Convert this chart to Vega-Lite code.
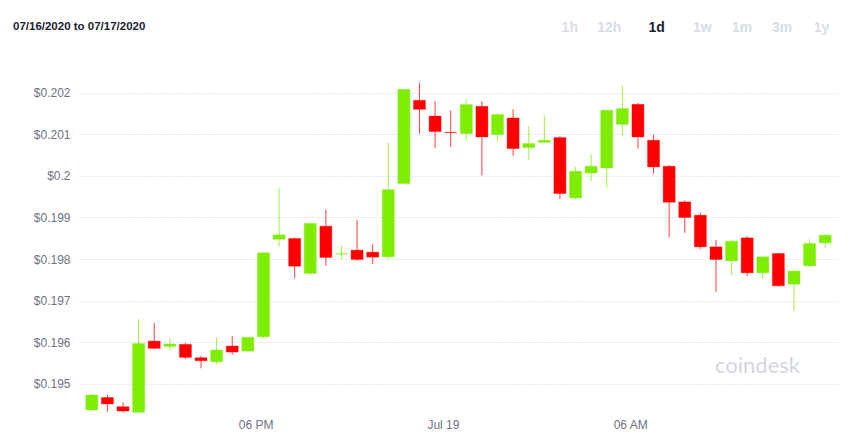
{
  "$schema": "https://vega.github.io/schema/vega-lite/v6.json",
  "width": 759,
  "height": 337,
  "autosize": {"type": "none"},
  "padding": {"left": 79, "top": 76, "right": 28, "bottom": 33},
  "background": "#ffffff",
  "title": {
    "text": "07/16/2020 to 07/17/2020",
    "anchor": "start",
    "frame": "group",
    "dx": -66,
    "dy": 16,
    "font": "Liberation Sans, Arial, sans-serif",
    "fontSize": 11.5,
    "fontWeight": "bold",
    "color": "#1b1d33"
  },
  "data": {
    "values": [
      {"t": "2020-07-18T12:45:00", "o": 0.194372, "h": 0.194768, "l": 0.194348, "c": 0.194732},
      {"t": "2020-07-18T13:15:00", "o": 0.194672, "h": 0.194732, "l": 0.194331, "c": 0.194516},
      {"t": "2020-07-18T13:45:00", "o": 0.194451, "h": 0.194557, "l": 0.194307, "c": 0.194348},
      {"t": "2020-07-18T14:15:00", "o": 0.194317, "h": 0.196557, "l": 0.19431, "c": 0.195973},
      {"t": "2020-07-18T14:45:00", "o": 0.196029, "h": 0.196468, "l": 0.195836, "c": 0.195853},
      {"t": "2020-07-18T15:15:00", "o": 0.195901, "h": 0.196108, "l": 0.195796, "c": 0.195957},
      {"t": "2020-07-18T15:45:00", "o": 0.195949, "h": 0.195988, "l": 0.195597, "c": 0.195637},
      {"t": "2020-07-18T16:15:00", "o": 0.195628, "h": 0.195676, "l": 0.195373, "c": 0.195556},
      {"t": "2020-07-18T16:45:00", "o": 0.195532, "h": 0.196118, "l": 0.195469, "c": 0.195813},
      {"t": "2020-07-18T17:15:00", "o": 0.195909, "h": 0.196149, "l": 0.1957, "c": 0.195765},
      {"t": "2020-07-18T17:45:00", "o": 0.195789, "h": 0.19613, "l": 0.195748, "c": 0.196118},
      {"t": "2020-07-18T18:15:00", "o": 0.196132, "h": 0.19816, "l": 0.1961, "c": 0.198149},
      {"t": "2020-07-18T18:45:00", "o": 0.198478, "h": 0.199695, "l": 0.198293, "c": 0.198581},
      {"t": "2020-07-18T19:15:00", "o": 0.198495, "h": 0.19851, "l": 0.197534, "c": 0.197829},
      {"t": "2020-07-18T19:45:00", "o": 0.197654, "h": 0.19887, "l": 0.19764, "c": 0.198855},
      {"t": "2020-07-18T20:15:00", "o": 0.19879, "h": 0.199191, "l": 0.197837, "c": 0.198038},
      {"t": "2020-07-18T20:45:00", "o": 0.19812, "h": 0.198334, "l": 0.19799, "c": 0.19813},
      {"t": "2020-07-18T21:15:00", "o": 0.198214, "h": 0.198951, "l": 0.197957, "c": 0.19799},
      {"t": "2020-07-18T21:45:00", "o": 0.198166, "h": 0.198358, "l": 0.197877, "c": 0.198046},
      {"t": "2020-07-18T22:15:00", "o": 0.198053, "h": 0.20079, "l": 0.198005, "c": 0.199666},
      {"t": "2020-07-18T22:45:00", "o": 0.199815, "h": 0.20209, "l": 0.1998, "c": 0.202079},
      {"t": "2020-07-18T23:15:00", "o": 0.201815, "h": 0.20223, "l": 0.201016, "c": 0.201599},
      {"t": "2020-07-18T23:45:00", "o": 0.201438, "h": 0.201798, "l": 0.20067, "c": 0.201064},
      {"t": "2020-07-19T00:15:00", "o": 0.201047, "h": 0.201575, "l": 0.200694, "c": 0.201037},
      {"t": "2020-07-19T00:45:00", "o": 0.201016, "h": 0.201856, "l": 0.200855, "c": 0.201712},
      {"t": "2020-07-19T01:15:00", "o": 0.201671, "h": 0.201791, "l": 0.200014, "c": 0.200934},
      {"t": "2020-07-19T01:45:00", "o": 0.200992, "h": 0.2015, "l": 0.200838, "c": 0.201472},
      {"t": "2020-07-19T02:15:00", "o": 0.20139, "h": 0.201599, "l": 0.200478, "c": 0.200655},
      {"t": "2020-07-19T02:45:00", "o": 0.20068, "h": 0.201198, "l": 0.200391, "c": 0.200776},
      {"t": "2020-07-19T03:15:00", "o": 0.200807, "h": 0.201455, "l": 0.20079, "c": 0.200855},
      {"t": "2020-07-19T03:45:00", "o": 0.20092, "h": 0.20095, "l": 0.199438, "c": 0.199575},
      {"t": "2020-07-19T04:15:00", "o": 0.199469, "h": 0.200214, "l": 0.199438, "c": 0.20011},
      {"t": "2020-07-19T04:45:00", "o": 0.20007, "h": 0.200519, "l": 0.199878, "c": 0.200231},
      {"t": "2020-07-19T05:15:00", "o": 0.20019, "h": 0.20159, "l": 0.199719, "c": 0.201575},
      {"t": "2020-07-19T05:45:00", "o": 0.201239, "h": 0.202175, "l": 0.200958, "c": 0.201616},
      {"t": "2020-07-19T06:15:00", "o": 0.201719, "h": 0.20175, "l": 0.200655, "c": 0.200934},
      {"t": "2020-07-19T06:45:00", "o": 0.200855, "h": 0.200992, "l": 0.200055, "c": 0.200214},
      {"t": "2020-07-19T07:15:00", "o": 0.200231, "h": 0.200255, "l": 0.198519, "c": 0.199366},
      {"t": "2020-07-19T07:45:00", "o": 0.199373, "h": 0.199414, "l": 0.198629, "c": 0.198999},
      {"t": "2020-07-19T08:15:00", "o": 0.199054, "h": 0.199119, "l": 0.198238, "c": 0.198293},
      {"t": "2020-07-19T08:45:00", "o": 0.198293, "h": 0.198454, "l": 0.197212, "c": 0.19799},
      {"t": "2020-07-19T09:15:00", "o": 0.197957, "h": 0.198454, "l": 0.197613, "c": 0.19843},
      {"t": "2020-07-19T09:45:00", "o": 0.198509, "h": 0.19855, "l": 0.197589, "c": 0.197669},
      {"t": "2020-07-19T10:15:00", "o": 0.197669, "h": 0.19807, "l": 0.197534, "c": 0.198053},
      {"t": "2020-07-19T10:45:00", "o": 0.198134, "h": 0.19815, "l": 0.19734, "c": 0.197357},
      {"t": "2020-07-19T11:15:00", "o": 0.197397, "h": 0.197733, "l": 0.196756, "c": 0.197709},
      {"t": "2020-07-19T11:45:00", "o": 0.197837, "h": 0.198478, "l": 0.19782, "c": 0.198374},
      {"t": "2020-07-19T12:15:00", "o": 0.198389, "h": 0.198598, "l": 0.198269, "c": 0.198574}
    ]
  },
  "resolve": {"axis": {"x": "independent"}},
  "layer": [
    {
      "mark": {"type": "rule", "strokeWidth": 1, "opacity": 0.75},
      "encoding": {
        "x": {
          "field": "t",
          "type": "temporal",
          "scale": {
            "domain": [
              {"year": 2020, "month": 7, "date": 18, "hours": 12, "minutes": 30},
              {"year": 2020, "month": 7, "date": 19, "hours": 12, "minutes": 30}
            ]
          },
          "axis": {
            "orient": "bottom",
            "values": [
              {"year": 2020, "month": 7, "date": 18, "hours": 18},
              {"year": 2020, "month": 7, "date": 19, "hours": 0},
              {"year": 2020, "month": 7, "date": 19, "hours": 6}
            ],
            "labelExpr": "hours(datum.value) == 0 ? timeFormat(datum.value, '%b %d') : timeFormat(datum.value, '%I %p')",
            "domain": false,
            "ticks": false,
            "tickSize": 0,
            "grid": false,
            "labelPadding": 11,
            "labelBaseline": "middle",
            "labelFont": "Liberation Sans, Arial, sans-serif",
            "labelFontSize": 12,
            "labelColor": "#6e7283",
            "title": "coindesk",
            "titleX": 678,
            "titleY": -48,
            "titleAlign": "center",
            "titleAnchor": null,
            "titleBaseline": "middle",
            "titleFont": "Lato, Open Sans, sans-serif",
            "titleFontSize": 22,
            "titleFontWeight": "normal",
            "titleColor": "#d3d6df"
          }
        },
        "y": {
          "field": "l",
          "type": "quantitative",
          "scale": {"domain": [0.1943, 0.2024], "zero": false, "nice": false},
          "axis": {
            "values": [0.195, 0.196, 0.197, 0.198, 0.199, 0.2, 0.201, 0.202],
            "labelExpr": "'$' + format(datum.value, '~g')",
            "domain": false,
            "ticks": false,
            "tickSize": 0,
            "labelPadding": 9,
            "labelFont": "Liberation Sans, Arial, sans-serif",
            "labelFontSize": 12,
            "labelColor": "#6e7283",
            "grid": true,
            "gridColor": "#d9ddef",
            "gridDash": [1, 1.3],
            "gridWidth": 1,
            "title": null
          }
        },
        "y2": {"field": "h"},
        "color": {
          "condition": {"test": "datum.c >= datum.o", "value": "#7fed00"},
          "value": "#ff0000"
        }
      }
    },
    {
      "mark": {"type": "bar", "size": 12, "strokeWidth": 1, "strokeOpacity": 0.35},
      "encoding": {
        "x": {
          "field": "t",
          "type": "temporal",
          "axis": {
            "orient": "top",
            "values": [
              {"year": 2020, "month": 7, "date": 19, "hours": 4, "minutes": 3},
              {"year": 2020, "month": 7, "date": 19, "hours": 5, "minutes": 19},
              {"year": 2020, "month": 7, "date": 19, "hours": 6, "minutes": 50},
              {"year": 2020, "month": 7, "date": 19, "hours": 8, "minutes": 18},
              {"year": 2020, "month": 7, "date": 19, "hours": 9, "minutes": 34},
              {"year": 2020, "month": 7, "date": 19, "hours": 10, "minutes": 51},
              {"year": 2020, "month": 7, "date": 19, "hours": 12, "minutes": 7}
            ],
            "labelExpr": "hours(datum.value) == 4 ? '1h' : hours(datum.value) == 5 ? '12h' : hours(datum.value) == 6 ? '1d' : hours(datum.value) == 8 ? '1w' : hours(datum.value) == 9 ? '1m' : hours(datum.value) == 10 ? '3m' : '1y'",
            "domain": false,
            "ticks": false,
            "tickSize": 0,
            "grid": false,
            "offset": 44,
            "labelPadding": 5,
            "labelBaseline": "middle",
            "labelFont": "Liberation Sans, sans-serif",
            "labelFontSize": 14,
            "labelFontWeight": "bold",
            "labelColor": {
              "condition": {"test": "hours(datum.value) == 6", "value": "#1b1d33"},
              "value": "#d9dce6"
            },
            "labelOverlap": false,
            "title": null
          }
        },
        "y": {"field": "o", "type": "quantitative"},
        "y2": {"field": "c"},
        "color": {
          "condition": {"test": "datum.c >= datum.o", "value": "#7fed00"},
          "value": "#ff0000"
        },
        "stroke": {
          "condition": {"test": "datum.c >= datum.o", "value": "#7fed00"},
          "value": "#ff0000"
        }
      }
    }
  ],
  "config": {
    "view": {"stroke": null},
    "bar": {"opacity": 1}
  }
}
